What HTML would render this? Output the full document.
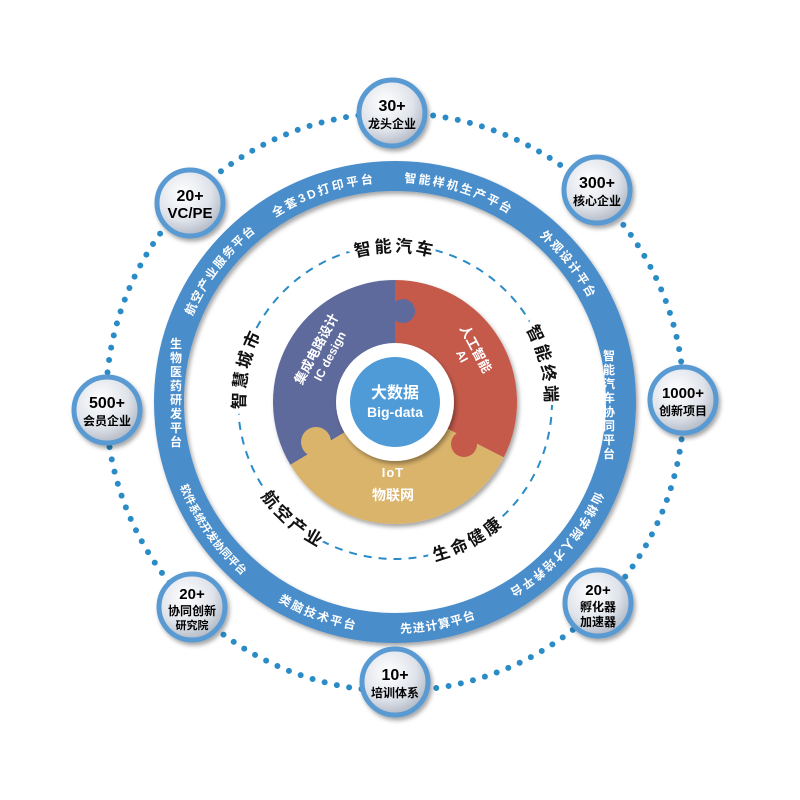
<!DOCTYPE html>
<html><head><meta charset="utf-8"><style>
html,body{margin:0;padding:0;background:#fff;}
svg{display:block;font-family:"Liberation Sans","Noto Sans CJK SC",sans-serif;}
</style></head><body>
<svg width="800" height="800" viewBox="0 0 800 800" xmlns="http://www.w3.org/2000/svg">
<defs>
<radialGradient id="ng" cx="40%" cy="35%" r="70%">
<stop offset="0" stop-color="#ffffff"/><stop offset="0.6" stop-color="#dfe3ea"/><stop offset="1" stop-color="#aab2bf"/>
</radialGradient>
<filter id="sh" x="-30%" y="-30%" width="160%" height="160%"><feDropShadow dx="2" dy="3" stdDeviation="2" flood-color="#000" flood-opacity="0.35"/></filter>
<path id="A" d="M175.3,413.5 A220,220 0 0 1 345.5,187.6"/>
<path id="B" d="M206.4,288.7 A220,220 0 0 1 473.8,196.6"/>
<path id="Cc" d="M309,199.5 A220,220 0 0 1 579.5,282.2"/>
<path id="D" d="M439.2,186.5 A220,220 0 0 1 614.9,408.1"/>
<path id="E" d="M614.9,407.8 A220,220 0 0 1 427.5,619.6"/>
<path id="F" d="M195,517.5 A231,231 0 0 0 474,619.1"/>
<path id="G" d="M283,604 A231,231 0 0 0 574.5,547.4"/>
<path id="H" d="M164.9,381.9 A231,231 0 0 0 335.2,625.1"/>
<path id="I" d="M483.2,280.6 A150,150 0 0 1 529.8,467.8"/>
<path id="J" d="M262,471.3 A150,150 0 0 1 303.7,283"/>
<path id="K" d="M298.6,287.1 A150,150 0 0 1 491.4,287.1"/>
<path id="L" d="M233,427.7 A164,164 0 0 0 392.1,566"/>
<path id="M" d="M360.9,562.4 A164,164 0 0 0 547.1,463.4"/>
</defs>

<circle cx="395" cy="402" r="289" fill="none" stroke="#2a8bc6" stroke-width="6" stroke-linecap="round" stroke-dasharray="0 12.5"/>

<circle cx="395" cy="402" r="226" fill="none" stroke="#4a8dcb" stroke-width="30" filter="url(#sh)"/>

<g fill="#fff" font-size="12" font-weight="bold">
<text letter-spacing="1.5" text-anchor="middle"><textPath href="#A" startOffset="50%">航空产业服务平台</textPath></text>
<text letter-spacing="2.5" text-anchor="middle"><textPath href="#B" startOffset="50%">全套3D打印平台</textPath></text>
<text letter-spacing="2" text-anchor="middle"><textPath href="#Cc" startOffset="50%">智能样机生产平台</textPath></text>
<text letter-spacing="1.5" text-anchor="middle"><textPath href="#D" startOffset="50%">外观设计平台</textPath></text>
<text letter-spacing="1.5" text-anchor="middle"><textPath href="#E" startOffset="50%">仙桃学院人才培养平台</textPath></text>
<text letter-spacing="2" text-anchor="middle"><textPath href="#F" startOffset="50%">类脑技术平台</textPath></text>
<text letter-spacing="1" text-anchor="middle"><textPath href="#G" startOffset="50%">先进计算平台</textPath></text>
<text letter-spacing="0" text-anchor="middle" font-size="11"><textPath href="#H" startOffset="50%">软件系统开发协同平台</textPath></text>
<g text-anchor="middle">
<text x="609" y="360">智</text><text x="609" y="374">能</text><text x="609" y="388">汽</text><text x="609" y="402">车</text><text x="609" y="416">协</text><text x="609" y="430">同</text><text x="609" y="444">平</text><text x="609" y="458">台</text>
<text x="176" y="348">生</text><text x="176" y="362">物</text><text x="176" y="376">医</text><text x="176" y="390">药</text><text x="176" y="404">研</text><text x="176" y="418">发</text><text x="176" y="432">平</text><text x="176" y="446">台</text>
</g>
</g>

<circle cx="395" cy="402" r="157" fill="none" stroke="#2a8bc6" stroke-width="2" stroke-dasharray="8 7"/>
<g font-size="17" font-weight="bold" fill="#111" stroke="#fff" stroke-width="7" paint-order="stroke" letter-spacing="3" text-anchor="middle">
<text><textPath href="#K" startOffset="50%">智能汽车</textPath></text>
<text><textPath href="#I" startOffset="50%">智能终端</textPath></text>
<text><textPath href="#J" startOffset="50%">智慧城市</textPath></text>
<text><textPath href="#L" startOffset="50%">航空产业</textPath></text>
<text><textPath href="#M" startOffset="50%">生命健康</textPath></text>
</g>

<g filter="url(#sh)">
<path d="M395,402 L290.4,464.8 A122,122 0 0 1 395,280 Z" fill="#5e6a9c"/>
<path d="M395,402 L395,280 A122,122 0 0 1 503.7,457.4 Z" fill="#c55a4b"/>
<path d="M395,402 L503.7,457.4 A122,122 0 0 1 290.4,464.8 Z" fill="#dbb46c"/>
</g>
<circle cx="403" cy="311" r="12" fill="#5e6a9c"/>
<circle cx="316" cy="442" r="15" fill="#dbb46c"/>
<circle cx="464" cy="444" r="13" fill="#c55a4b"/>
<circle cx="395" cy="402" r="59" fill="#fff" filter="url(#sh)"/>
<circle cx="395" cy="402" r="45" fill="#4f9bd8"/>
<g fill="#fff" font-weight="bold" text-anchor="middle">
<text x="395" y="398" font-size="16">大数据</text>
<text x="395" y="417" font-size="14">Big-data</text>
<text x="393" y="477" font-size="13" letter-spacing="1">IoT</text>
<text x="393" y="500" font-size="14">物联网</text>
<g transform="translate(322,352) rotate(-62)"><text x="0" y="-2" font-size="13">集成电路设计</text><text x="0" y="13" font-size="12">IC design</text></g>
<g transform="translate(470,352) rotate(62)"><text x="0" y="-2" font-size="13">人工智能</text><text x="0" y="13" font-size="12">AI</text></g>
</g>

<g font-weight="bold">
<g transform="translate(392,113)"><circle r="33" fill="url(#ng)" stroke="#5a9ad3" stroke-width="5" filter="url(#sh)"/><text y="-2" text-anchor="middle" font-size="16">30+</text><text y="15" text-anchor="middle" font-size="12">龙头企业</text></g>
<g transform="translate(190,203)"><circle r="33" fill="url(#ng)" stroke="#5a9ad3" stroke-width="5" filter="url(#sh)"/><text y="-2" text-anchor="middle" font-size="16">20+</text><text y="15" text-anchor="middle" font-size="15">VC/PE</text></g>
<g transform="translate(597,190)"><circle r="33" fill="url(#ng)" stroke="#5a9ad3" stroke-width="5" filter="url(#sh)"/><text y="-2" text-anchor="middle" font-size="16">300+</text><text y="15" text-anchor="middle" font-size="12">核心企业</text></g>
<g transform="translate(683,400)"><circle r="33" fill="url(#ng)" stroke="#5a9ad3" stroke-width="5" filter="url(#sh)"/><text y="-2" text-anchor="middle" font-size="15">1000+</text><text y="15" text-anchor="middle" font-size="12">创新项目</text></g>
<g transform="translate(107,410)"><circle r="33" fill="url(#ng)" stroke="#5a9ad3" stroke-width="5" filter="url(#sh)"/><text y="-2" text-anchor="middle" font-size="16">500+</text><text y="15" text-anchor="middle" font-size="12">会员企业</text></g>
<g transform="translate(192,607)"><circle r="33" fill="url(#ng)" stroke="#5a9ad3" stroke-width="5" filter="url(#sh)"/><text y="-8" text-anchor="middle" font-size="15">20+</text><text y="8" text-anchor="middle" font-size="12">协同创新</text><text y="22" text-anchor="middle" font-size="11">研究院</text></g>
<g transform="translate(395,682)"><circle r="33" fill="url(#ng)" stroke="#5a9ad3" stroke-width="5" filter="url(#sh)"/><text y="-2" text-anchor="middle" font-size="16">10+</text><text y="15" text-anchor="middle" font-size="12">培训体系</text></g>
<g transform="translate(598,603)"><circle r="33" fill="url(#ng)" stroke="#5a9ad3" stroke-width="5" filter="url(#sh)"/><text y="-8" text-anchor="middle" font-size="15">20+</text><text y="8" text-anchor="middle" font-size="12">孵化器</text><text y="23" text-anchor="middle" font-size="12">加速器</text></g>
</g>
</svg>
</body></html>
